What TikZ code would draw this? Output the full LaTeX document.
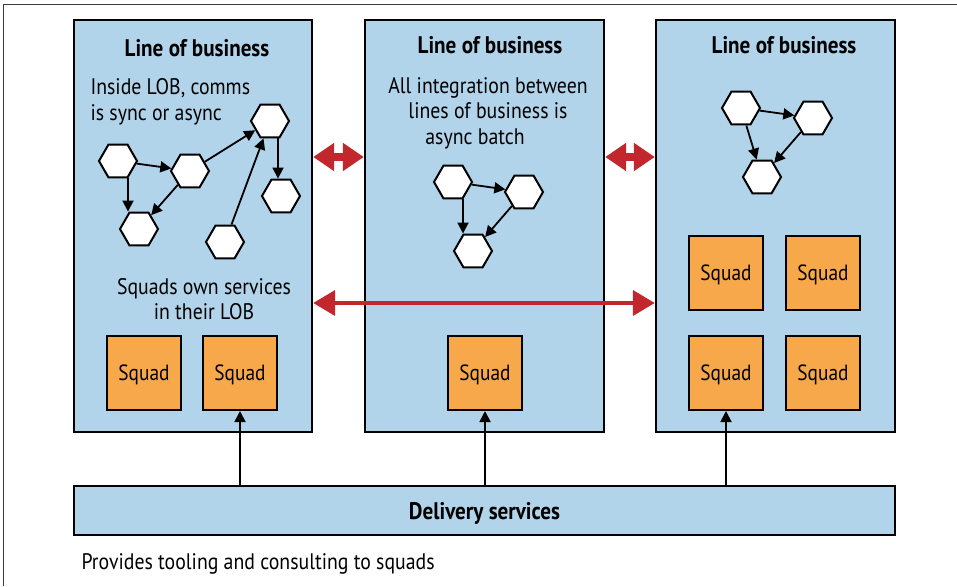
\documentclass[tikz,border=0pt]{standalone}
\usepackage{fontspec}
\setmainfont{PT Sans}[FakeStretch=0.88]
\usepackage{xcolor}
\usetikzlibrary{
	arrows.meta,
	calc,
	positioning,
	shapes.geometric
}
\definecolor{LobBlue}{RGB}{178,212,234}
\definecolor{SquadOrange}{RGB}{247,168,75}
\definecolor{LinkRed}{RGB}{193,39,45}
\definecolor{FrameGray}{RGB}{60,60,60}

\begin{document}
\begin{tikzpicture}[x=1pt, y=-1pt,
		lob/.style={draw, line width=2.4pt, fill=LobBlue, minimum width=238pt, minimum height=412pt, inner sep=0pt},
		squad/.style={draw, line width=2pt, fill=SquadOrange, minimum size=74pt, inner sep=0pt, text depth=0pt, font=\fontsize{22}{26}\selectfont},
		hexa/.style={draw, line width=2pt, fill=white, regular polygon, regular polygon sides=6, minimum size=38pt, inner sep=0pt},
		title/.style={font=\fontsize{24}{28}\selectfont\bfseries},
		note/.style={font=\fontsize{22.5}{25.5}\selectfont},
		harrow/.style={line width=1.8pt, -{Triangle[length=11pt, width=11pt]}},
		uparrow/.style={line width=1.8pt, -{Triangle[length=11pt, width=11pt]}},
		redshort/.style={LinkRed, line width=8pt, {Triangle[length=21pt, width=27pt]}-{Triangle[length=21pt, width=27pt]}},
		redlong/.style={LinkRed, line width=4pt, {Triangle[length=22pt, width=25pt]}-{Triangle[length=22pt, width=25pt]}}
	]
	\useasboundingbox (0,0) rectangle (957,586);
	
	% outer frame (top and left only)
	\draw[FrameGray, line width=1pt] (3,586) -- (3,5) -- (957,5);
	
	% lines of business
	\node[lob] (lob1) at (193,226) {};
	\node[lob, minimum width=239pt] (lob2) at (484.5,226) {};
	\node[lob, minimum width=239pt] (lob3) at (775.5,226) {};
	
	\node[title] (t1) at (197,48) {Line of business};
	\node[title] (t2) at (490,45) {Line of business};
	\node[title] (t3) at (784,45) {Line of business};
	
	\node[note, anchor=west, align=left] (n1) at (87,102) {Inside LOB, comms\\is sync or async};
	\node[note, align=center] (n2) at (488,113) {All integration between\\lines of business is\\async batch\hspace*{26pt}};
	\node[note, align=center] (n3) at (204,299) {Squads own services\\in their LOB};
	
	% services, left LOB
	\node[hexa] (h1) at (118,161) {};
	\node[hexa] (h2) at (190,171) {};
	\node[hexa] (h3) at (139,229) {};
	\node[hexa] (h4) at (270,121) {};
	\node[hexa] (h5) at (281,196) {};
	\node[hexa] (h6) at (225,242) {};
	\draw[harrow] (h1) -- (h2);
	\draw[harrow] ([xshift=10pt]h1.south) -- ([xshift=10pt]h1.south |- h3.north);
	\draw[harrow] (h2) -- (h3);
	\draw[harrow] (h2) -- (h4);
	\draw[harrow] (h6) -- (h4);
	\draw[harrow] ([xshift=8pt]h4.south) -- ([xshift=8pt]h4.south |- h5.north);
	
	% services, middle LOB
	\node[hexa] (m1) at (453,182) {};
	\node[hexa] (m2) at (524,192) {};
	\node[hexa] (m3) at (473,251) {};
	\draw[harrow] (m1) -- (m2);
	\draw[harrow] ([xshift=10pt]m1.south) -- ([xshift=10pt]m1.south |- m3.north);
	\draw[harrow] (m2) -- (m3);
	
	% services, right LOB
	\node[hexa] (r1) at (741,108) {};
	\node[hexa] (r2) at (813,118) {};
	\node[hexa] (r3) at (762,177) {};
	\draw[harrow] (r1) -- (r2);
	\draw[harrow] (r1) -- (r3);
	\draw[harrow] (r2) -- (r3);
	
	% squads
	\node[squad] (s1) at (144,373) {Squad};
	\node[squad] (s2) at (240,373) {Squad};
	\node[squad] (s3) at (485,373) {Squad};
	\node[squad] (s4) at (726,273) {Squad};
	\node[squad] (s5) at (823,273) {Squad};
	\node[squad] (s6) at (726,373) {Squad};
	\node[squad] (s7) at (823,373) {Squad};
	
	% integration between LOBs
	\coordinate (rowA) at (0,157);
	\coordinate (rowB) at (0,303);
	\draw[redshort] (lob1.east |- rowA) -- (lob2.west |- rowA);
	\draw[redshort] (lob2.east |- rowA) -- (lob3.west |- rowA);
	\draw[redlong] (lob1.east |- rowB) -- (lob3.west |- rowB);
	
	% delivery services
	\node[draw, line width=2.4pt, fill=LobBlue, minimum width=821pt, minimum height=49pt, inner sep=0pt, text depth=0pt, title] (dlv) at (484.5,510.5) {Delivery services};
	\draw[uparrow] (s2.south |- dlv.north) -- (s2.south);
	\draw[uparrow] (s3.south |- dlv.north) -- (s3.south);
	\draw[uparrow] (s6.south |- dlv.north) -- (s6.south);
	
	\node[note, anchor=west] (cap) at (78,564) {Provides tooling and consulting to squads};
\end{tikzpicture}
\end{document}
